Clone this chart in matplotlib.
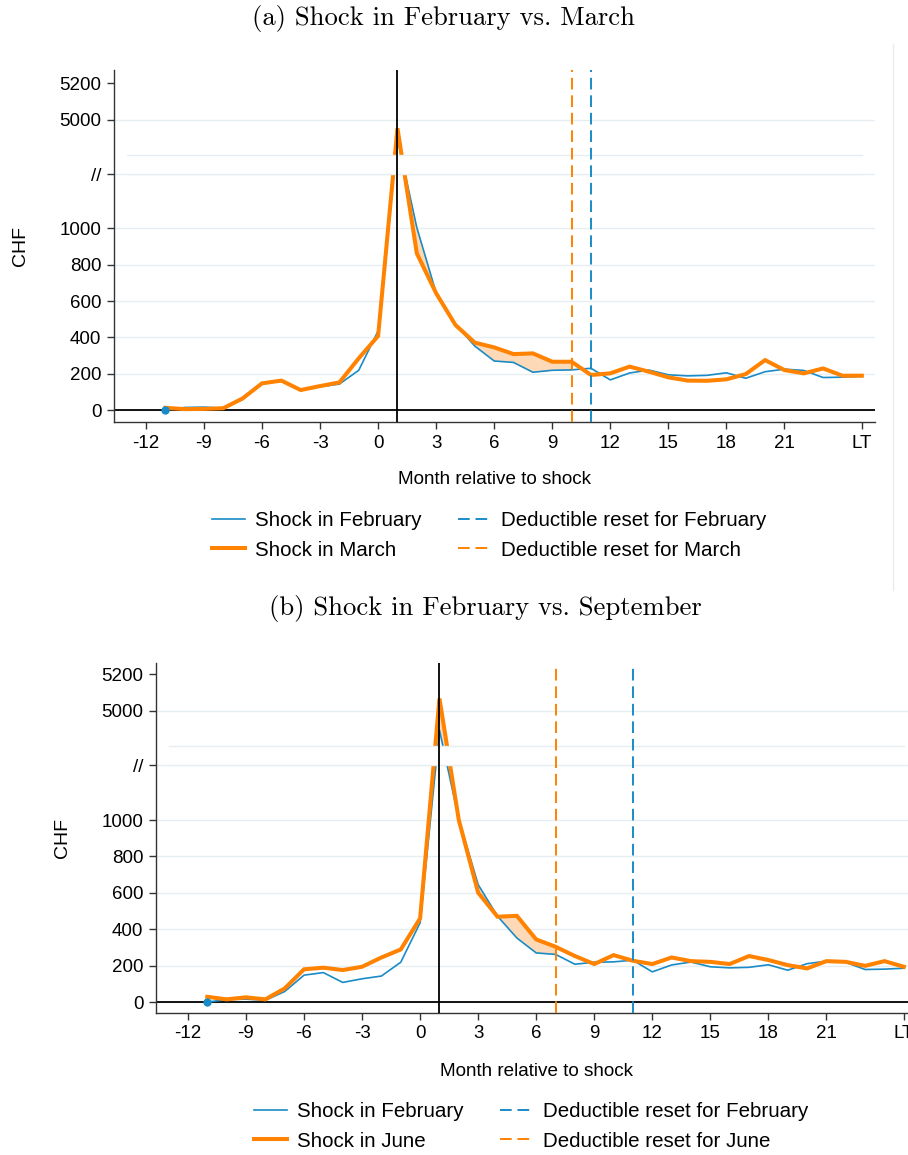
import numpy as np
import matplotlib
matplotlib.use("Agg")
import matplotlib.pyplot as plt
from matplotlib.lines import Line2D

# ---------------- data ----------------
months = np.arange(-11, 26)          # 25 = "LT" (long term)
feb = [0, 14, 16, 10, 58, 148, 162, 108, 128, 143, 219, 436, 4894, 1005, 645, 472,
       352, 270, 262, 208, 219, 221, 230, 166, 204, 220, 194, 188, 191, 205, 175,
       211, 225, 218, 179, 181, 186]
mar = [12, 5, 6, 10, 64, 147, 162, 110, 132, 152, 285, 408, 4952, 863, 643, 468,
       371, 345, 308, 312, 266, 266, 193, 202, 239, 211, 180, 162, 161, 169, 198,
       275, 220, 202, 229, 189, 189]
jun = [29, 15, 26, 15, 75, 180, 189, 176, 194, 245, 289, 460, 5068, 1000, 601, 469,
       474, 344, 304, 253, 209, 258, 227, 209, 245, 225, 221, 209, 253, 231, 203,
       185, 225, 221, 199, 225, 194]

shock_month = 1
reset_feb = 11
reset_mar = 10
reset_jun = 7

xtick_pos = [-12, -9, -6, -3, 0, 3, 6, 9, 12, 15, 18, 21, 25]
xtick_lab = ["-12", "-9", "-6", "-3", "0", "3", "6", "9", "12", "15", "18", "21", "LT"]
ytick_vals = [0, 200, 400, 600, 800, 1000, 4700, 5000, 5200]
ytick_lab = ["0", "200", "400", "600", "800", "1000", "//", "5000", "5200"]
grid_vals = [0, 200, 400, 600, 800, 1000, 4700, 5000]
break_lo, break_hi = 4700, 4805

titles = ["(a) Shock in February vs. March", "(b) Shock in February vs. September"]
second_names = ["March", "June"]

BLUE = "#1a8bc6"
ORANGE = "#ff8200"
FILL = "#fdd9b8"
GRID = "#e7eef2"
AX = "#333333"

# ---------------- broken-axis scale ----------------
LO, HI, SHIFT = 1250.0, 4700.0, 3400.0
TOP = HI - SHIFT  # 1300


def fwd(v):
    v = np.asarray(v, float)
    return np.where(v < LO, v,
                    np.where(v > HI, v - SHIFT, LO + (v - LO) * (TOP - LO) / (HI - LO)))


def inv(d):
    d = np.asarray(d, float)
    return np.where(d < LO, d,
                    np.where(d > TOP, d + SHIFT, LO + (d - LO) * (HI - LO) / (TOP - LO)))


plt.rcParams["font.family"] = ["Liberation Sans", "DejaVu Sans"]

W, H = 908, 1155
fig = plt.figure(figsize=(W / 100, H / 100), dpi=100)


def px_axes(l, t, r, b):
    return fig.add_axes([l / W, 1 - b / H, (r - l) / W, (b - t) / H])


def ax_center_y(ax):
    bb = ax.get_position()
    return (1 - (bb.y0 + bb.y1) / 2) * H


def panel(ax, second, reset2, ylim, name2, leg_xy, title, title_xy, chf_x, xlab_xy):
    ax.set_yscale("function", functions=(fwd, inv))
    ax.set_xlim(-13.65, 25.68)
    ax.set_ylim(*ylim)
    for g in grid_vals:
        ax.axhline(g, color=GRID, lw=1.0, zorder=0.5)
    ax.axhline(0, color="black", lw=1.3, zorder=1)

    x = np.asarray(months)
    f = np.asarray(feb, float)
    s = np.asarray(second, float)
    m = (x >= shock_month) & (x <= reset2)
    ax.fill_between(x[m], f[m], s[m], color=FILL, lw=0, zorder=1.5)
    ax.plot(x, f, color=BLUE, lw=1.2, zorder=2)
    ax.plot(x, s, color=ORANGE, lw=2.9, zorder=2.5, solid_joinstyle="miter")

    # axis break band
    ax.fill_between([-13, 25], break_lo, break_hi, color="white", lw=0, zorder=3)
    ax.plot([-13, 25], [break_hi, break_hi], color=GRID, lw=1.0, zorder=3.1)
    ax.plot([-13, 25], [break_lo, break_lo], color=GRID, lw=1.0, zorder=3.1)

    ax.plot(x[0], f[0], "o", color=BLUE, ms=6, zorder=5, mec="none")

    ax.axvline(shock_month, color="black", lw=1.3, zorder=4)
    ax.axvline(reset2, color=ORANGE, lw=1.4, ls=(0, (6, 3)), zorder=4)
    ax.axvline(reset_feb, color=BLUE, lw=1.4, ls=(0, (6, 3)), zorder=4)

    ax.set_xticks(xtick_pos)
    ax.set_xticklabels(xtick_lab)
    ax.set_yticks(ytick_vals)
    ax.set_yticklabels(ytick_lab)
    ax.minorticks_off()
    ax.tick_params(axis="both", direction="out", length=5, width=1, color=AX,
                   labelsize=13.5, labelcolor="black", pad=4)
    for sp in ["top", "right"]:
        ax.spines[sp].set_visible(False)
    for sp in ["left", "bottom"]:
        ax.spines[sp].set_color(AX)
        ax.spines[sp].set_linewidth(1.0)

    fig.text(title_xy[0] / W, 1 - title_xy[1] / H, title, family="cmr10",
             fontsize=19.2, ha="center", va="center")
    fig.text(chf_x / W, 1 - ax_center_y(ax) / H, "CHF", rotation=90,
             fontsize=14, ha="center", va="center")
    fig.text(xlab_xy[0] / W, 1 - xlab_xy[1] / H, "Month relative to shock",
             fontsize=13.6, ha="center", va="center")

    handles = [Line2D([], [], color=BLUE, lw=1.2),
               Line2D([], [], color=ORANGE, lw=2.9),
               Line2D([], [], color=BLUE, lw=1.4, ls=(0, (6, 3))),
               Line2D([], [], color=ORANGE, lw=1.4, ls=(0, (6, 3)))]
    labels = ["Shock in February", "Shock in " + name2,
              "Deductible reset for February", "Deductible reset for " + name2]
    fig.legend(handles, labels, ncol=2, loc="upper left", frameon=False,
               bbox_to_anchor=(leg_xy[0] / W, 1 - leg_xy[1] / H),
               borderpad=0, borderaxespad=0, fontsize=14.8,
               handlelength=1.6, handletextpad=0.5, columnspacing=1.75,
               labelspacing=0.52)


ax_a = px_axes(114, 70, 875, 422)
panel(ax_a, mar, reset_mar, (-66, 5273), second_names[0], (212, 511),
      titles[0], (443, 18), 20, (494, 480))

ax_b = px_axes(156, 663, 917, 1013)
panel(ax_b, jun, reset_jun, (-60, 5263), second_names[1], (254, 1102),
      titles[1], (485, 608), 63, (536, 1071))

# thin border at the right of the upper panel
fig.add_artist(Line2D([893 / W, 893 / W], [1 - 44 / H, 1 - 590 / H],
                      color="#ececec", lw=1.0))

fig.savefig("out.png", dpi=100)
